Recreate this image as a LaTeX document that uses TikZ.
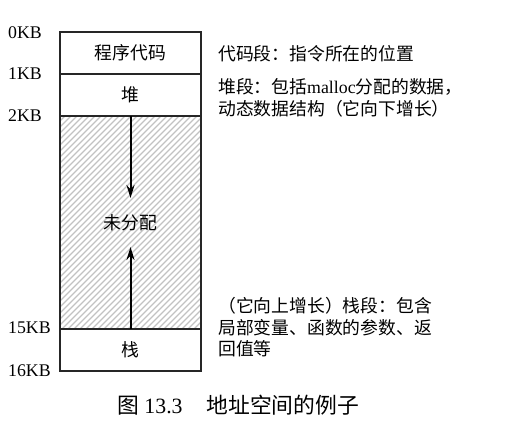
\documentclass[tikz,border=0pt]{standalone}
\usepackage{fontspec}
\setmainfont{Liberation Serif}
\newfontfamily\cjk{Noto Sans CJK SC}
\usetikzlibrary{arrows.meta}
\begin{document}
\begin{tikzpicture}[x=1pt,y=-1pt,
  seg/.style={draw=black!85,line width=1.3pt},
  kb/.style={anchor=west,font=\fontsize{17.8}{19}\selectfont,inner sep=0pt},
  lbl/.style={font=\fontsize{17.8}{19}\selectfont\cjk,inner sep=0pt},
  desc/.style={anchor=north west,align=left,inner sep=0pt,font=\fontsize{17.8}{21.5}\selectfont},
  growarrow/.style={line width=2pt,-{Stealth[length=13pt,width=8pt]}}]
\useasboundingbox (0,0) rectangle (530,442);
% hatch
\begin{scope}
\clip (60,116) rectangle (201,329);
\foreach \i in {-400,-394,...,200} {
  \draw[black!24,line width=1.4pt] (60+\i,329) -- (60+\i+213,116);
}
\end{scope}
% boxes
\draw[seg] (60,32) rectangle (201,371);
\draw[seg] (60,74) -- (201,74);
\draw[seg] (60,116) -- (201,116);
\draw[seg] (60,329) -- (201,329);
\node[lbl] (code) at (130.5,53) {程序代码};
\node[lbl] (heap) at (130.5,95) {堆};
\node[lbl] (free) at (130.5,223) {未分配};
\node[lbl] (stack) at (130.5,350) {栈};
\coordinate (heapbot) at (130.5,116);
\coordinate (stacktop) at (130.5,329);
\coordinate (dtip) at (130.5,198);
\coordinate (utip) at (130.5,247);
\draw[growarrow] (heapbot) -- (dtip);
\draw[growarrow] (stacktop) -- (utip);
% KB labels
\node[kb] (k0) at (8,33) {0KB};
\node[kb] (k1) at (8,74) {1KB};
\node[kb] (k2) at (8,116) {2KB};
\node[kb] (k15) at (8,328) {15KB};
\node[kb] (k16) at (8,371) {16KB};
% descriptions
\node[desc] (d1) at (218,45) {\cjk 代码段：指令所在的位置};
\node[desc] (d2) at (218,78.5) {{\cjk 堆段：包括}malloc{\cjk 分配的数据，}\\{\cjk 动态数据结构（它向下增长）}};
\node[desc] (d3) at (218,297.5) {\cjk （它向上增长）栈段：包含\\\cjk 局部变量、函数的参数、返\\\cjk 回值等};
% caption
\node[anchor=west,inner sep=0pt,font=\fontsize{21.8}{23}\selectfont] (cap) at (117,405) {{\cjk 图} 13.3\hspace{1.1em}{\cjk 地址空间的例子}};
\end{tikzpicture}
\end{document}
